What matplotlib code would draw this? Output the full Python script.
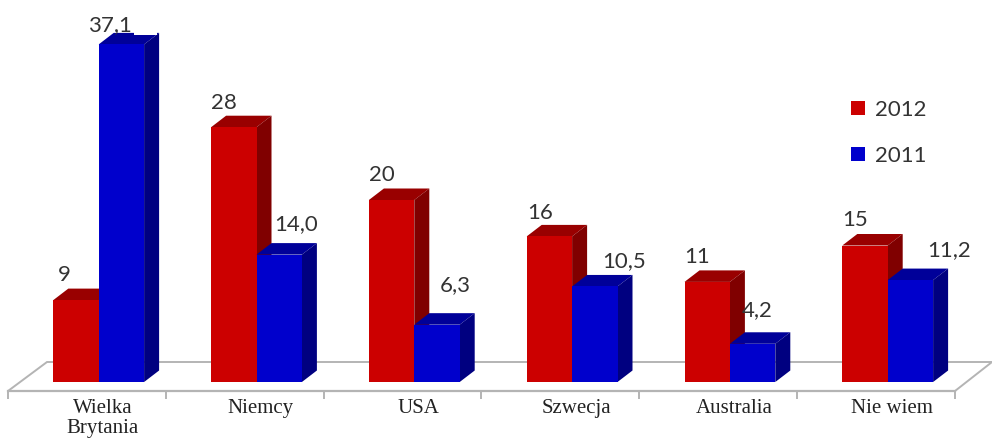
import matplotlib
matplotlib.use("Agg")
import matplotlib.pyplot as plt
from matplotlib.patches import Polygon, Rectangle

categories = ["Wielka\nBrytania", "Niemcy", "USA", "Szwecja", "Australia", "Nie wiem"]
values_2012 = [9, 28, 20, 16, 11, 15]
values_2011 = [37.1, 14.0, 6.3, 10.5, 4.2, 11.2]
labels_2012 = ["9", "28", "20", "16", "11", "15"]
labels_2011 = ["37,1", "14,0", "6,3", "10,5", "4,2", "11,2"]

# Layout, in pixels of the 992x447 image
W, H = 992, 447
PX_X0, PX_DX = 98.7, 157.8   # pixel of the red/blue boundary of group 0; group pitch
PX_Y0, PX_DY = 382.0, 9.1    # pixel of value 0; pixels per unit
FLOOR_FRONT = 391.0

def xd(px):
    return (px - PX_X0) / PX_DX

def yd(py):
    return (PX_Y0 - py) / PX_DY

BAR_W = 45.4 / PX_DX
DEPTH_X = 15 / PX_DX
DEPTH_Y = 11.5 / PX_DY

RED = ("#cc0000", "#990000", "#800000")
BLUE = ("#0000cc", "#000099", "#000080")
TEXT = "#333333"
VALUE_FONT = ["Lato", "DejaVu Sans"]

# label offsets from the top-centre of the front face, in pixels
off_2012 = [(-12, 25), (-10, 24), (-10, 25), (-9, 23), (-10, 25), (-10, 25)]
off_2011 = [(-11, 19), (17, 31), (18, 40), (29, 25), (5, 34), (39, 30)]

fig = plt.figure(figsize=(W / 100, H / 100), dpi=100)
ax = fig.add_axes([0, 1 - FLOOR_FRONT / H, 1, FLOOR_FRONT / H])
ax.set_xlim(xd(0), xd(W))
ax.set_ylim(yd(FLOOR_FRONT), yd(0))
ax.patch.set_visible(False)

# floor
ax.add_patch(Polygon([(xd(8), yd(FLOOR_FRONT)), (xd(47), yd(362)), (xd(992), yd(362)),
                      (xd(955), yd(FLOOR_FRONT))], closed=True, facecolor="white",
                     edgecolor="#b4b4b4", linewidth=1.4, zorder=1, clip_on=False))

def draw_bar(i, x_left, v, colors, z):
    ax.bar(x_left, v, width=BAR_W, align="edge", color=colors[0], linewidth=0, zorder=z + 0.2)
    x_r = x_left + BAR_W
    ax.add_patch(Polygon([(x_left, v), (x_r, v), (x_r + DEPTH_X, v + DEPTH_Y),
                          (x_left + DEPTH_X, v + DEPTH_Y)], closed=True,
                         facecolor=colors[1], edgecolor="none", zorder=z))
    ax.add_patch(Polygon([(x_r, 0), (x_r, v), (x_r + DEPTH_X, v + DEPTH_Y),
                          (x_r + DEPTH_X, DEPTH_Y)], closed=True,
                         facecolor=colors[2], edgecolor="none", zorder=z))

for i, (a, b) in enumerate(zip(values_2012, values_2011)):
    draw_bar(i, i - BAR_W, a, RED, 2 + i)
    draw_bar(i, i, b, BLUE, 2.5 + i)
    for x, v, txt, off in ((i - BAR_W / 2, a, labels_2012[i], off_2012[i]),
                           (i + BAR_W / 2, b, labels_2011[i], off_2011[i])):
        ax.annotate(txt, (x, v), xytext=off, textcoords="offset pixels", ha="center",
                    va="center", fontsize=16, color=TEXT, family=VALUE_FONT, zorder=20)

# white notch cut out of the tallest bar's top in the source image
ax.add_patch(Rectangle((xd(134), yd(35)), xd(157) - xd(134), yd(25) - yd(35),
                       facecolor="white", edgecolor="none", zorder=15))

# x axis
for s in ("top", "left", "right"):
    ax.spines[s].set_visible(False)
ax.spines["bottom"].set_bounds(xd(8), xd(955))
ax.spines["bottom"].set_color("#b4b4b4")
ax.spines["bottom"].set_linewidth(1.6)
ax.spines["bottom"].set_zorder(16)
ax.set_yticks([])
ax.set_xticks([xd(PX_X0 + 4 + PX_DX * i) for i in range(len(categories))], categories,
              family="Liberation Serif", fontsize=15, color="#222222", linespacing=1.08)
ax.set_xticks([xd(8 + PX_DX * i) for i in range(len(categories) + 1)], minor=True)
ax.tick_params(axis="x", which="major", length=0, pad=5.5)
ax.tick_params(axis="x", which="minor", length=5.5, width=1.4, color="#b4b4b4")

# legend
handles = [Rectangle((0, 0), 1, 1, facecolor=RED[0]), Rectangle((0, 0), 1, 1, facecolor=BLUE[0])]
leg = ax.legend(handles, ["2012", "2011"], loc="upper left",
                bbox_to_anchor=(851 / W, 1 - 100 / H, 0, 0), bbox_transform=fig.transFigure,
                frameon=False, borderpad=0, borderaxespad=0, handlelength=0.625,
                handleheight=0.625, handletextpad=0.45, labelspacing=1.15,
                prop={"family": VALUE_FONT, "size": 16})
for t in leg.get_texts():
    t.set_color(TEXT)

fig.savefig("out.png", dpi=100)
